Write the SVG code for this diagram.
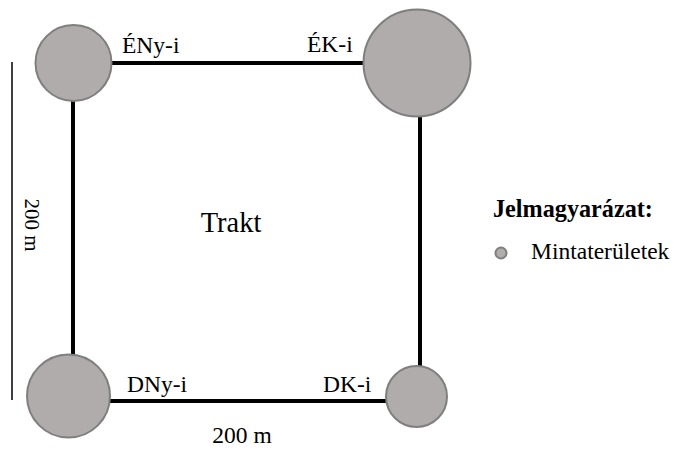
<svg xmlns="http://www.w3.org/2000/svg" width="674" height="450" viewBox="0 0 674 450">
<style>
.plot{fill:#b0acab;stroke:#7f7f7f;stroke-width:2}
.edge{stroke:#000;stroke-width:4;fill:none}
text{font-family:"Liberation Serif","Times New Roman","DejaVu Serif",serif;fill:#000}
.lbl{font-size:23.5px}
</style>
<rect width="674" height="450" fill="#fff"/>
<g id="connectors">
<line class="edge" x1="110" y1="63" x2="364" y2="63"/>
<line class="edge" x1="73" y1="100" x2="73" y2="355"/>
<line class="edge" x1="420" y1="116" x2="420" y2="367"/>
<line class="edge" x1="109" y1="401" x2="387" y2="401"/>
<line x1="12" y1="62" x2="12" y2="400" stroke="#000" stroke-width="1.5"/>
</g>
<g id="nw"><circle class="plot" cx="73.5" cy="63" r="38"/><text class="lbl" x="122" y="53">ÉNy-i</text></g>
<g id="ne"><circle class="plot" cx="417" cy="63" r="53.5"/><text class="lbl" x="307" y="52">ÉK-i</text></g>
<g id="sw"><circle class="plot" cx="68.5" cy="396" r="41.5"/><text class="lbl" x="127" y="392">DNy-i</text></g>
<g id="se"><circle class="plot" cx="416.5" cy="396.5" r="30.5"/><text class="lbl" x="323" y="392">DK-i</text></g>
<g id="trakt"><text x="231" y="232" font-size="28.5" text-anchor="middle">Trakt</text></g>
<g id="scale-bottom"><text class="lbl" x="242" y="443" text-anchor="middle">200 m</text></g>
<g id="scale-left"><text font-size="21" text-anchor="middle" transform="translate(25,225) rotate(90)">200 m</text></g>
<g id="legend">
<text x="493" y="217" font-size="24.2" font-weight="bold">Jelmagyarázat:</text>
<circle class="plot" cx="501" cy="253" r="5.5" stroke-width="1.5"/>
<text class="lbl" x="531" y="259">Mintaterületek</text>
</g>
</svg>
